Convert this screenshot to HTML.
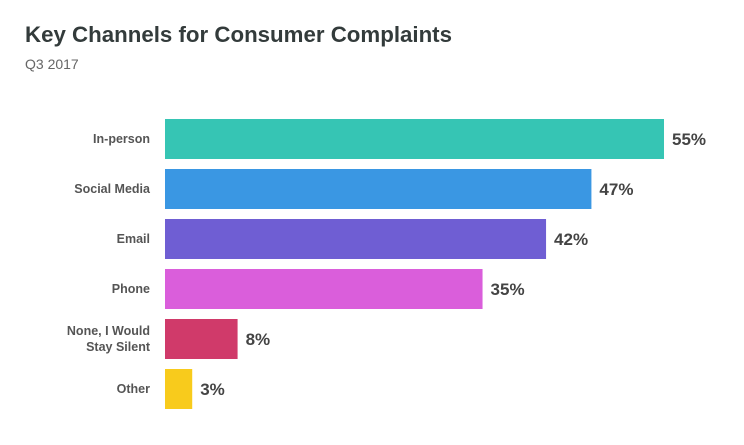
<!DOCTYPE html>
<html><head><meta charset="utf-8"><style>
body{margin:0;background:#fff;}
svg{display:block;font-family:"Liberation Sans",sans-serif;}
</style></head><body>
<svg id="chart" width="744" height="445">
<text x="25" y="42" font-size="22" font-weight="bold" fill="#333b3b" textLength="427" lengthAdjust="spacingAndGlyphs">Key Channels for Consumer Complaints</text>
<text x="25" y="69" font-size="14" fill="#666">Q3 2017</text>
<g id="bars"></g>
</svg>
<script>
const categories = [["In-person"],["Social Media"],["Email"],["Phone"],["None, I Would","Stay Silent"],["Other"]];
const values = [55,47,42,35,8,3];
const valueLabels = ["55%","47%","42%","35%","8%","3%"];
const colors = ["#36c5b4","#3a97e3","#6f5ed3","#da5edb","#d03a6a","#f8cb1c"];
const x0 = 165, pxPer = 499/55, yTop = 119, pitch = 50, bh = 40;
const xS = v => x0 + v*pxPer;
const yS = i => yTop + i*pitch;
const ns = "http://www.w3.org/2000/svg";
const g = document.getElementById('bars');
values.forEach((v,i)=>{
  const r = document.createElementNS(ns,'rect');
  r.setAttribute('x',x0); r.setAttribute('y',yS(i));
  r.setAttribute('width',xS(v)-x0); r.setAttribute('height',bh);
  r.setAttribute('fill',colors[i]);
  
  
  g.appendChild(r);
  const t = document.createElementNS(ns,'text');
  t.setAttribute('x',xS(v)+8); t.setAttribute('y',yS(i)+bh/2+6);
  t.setAttribute('font-size','17'); t.setAttribute('font-weight','bold'); t.setAttribute('fill','#444');
  t.textContent = valueLabels[i];
  
  
  g.appendChild(t);
  const lines = categories[i];
  lines.forEach((ln,j)=>{
    const c = document.createElementNS(ns,'text');
    c.setAttribute('x',150); c.setAttribute('text-anchor','end');
    const cy = yS(i)+bh/2+4 + (j-(lines.length-1)/2)*16;
    c.setAttribute('y',cy);
    c.setAttribute('font-size','12.5'); c.setAttribute('font-weight','bold'); c.setAttribute('fill','#555');
    c.textContent = ln;
    
    
    g.appendChild(c);
  });
});
</script>
</body></html>
